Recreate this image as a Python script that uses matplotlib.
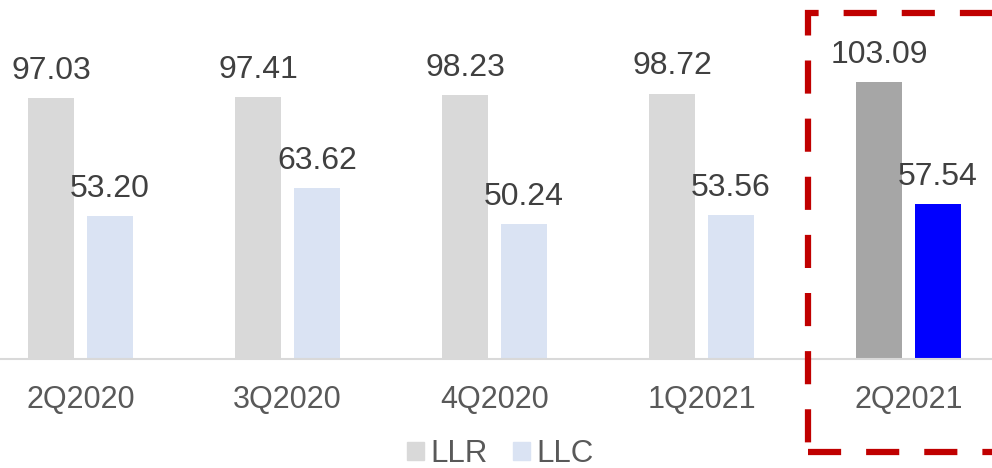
import matplotlib.pyplot as plt
from matplotlib.patches import Rectangle

plt.rcParams['font.family'] = ['Liberation Sans', 'DejaVu Sans']

quarters = ["2Q2020", "3Q2020", "4Q2020", "1Q2021", "2Q2021"]
llr = [97.03, 97.41, 98.23, 98.72, 103.09]
llc = [53.20, 63.62, 50.24, 53.56, 57.54]

llr_colors = ['#D9D9D9'] * 4 + ['#A6A6A6']
llc_colors = ['#DAE3F3'] * 4 + ['#0000FF']

fig = plt.figure(figsize=(9.92, 4.68), dpi=100)
ax = fig.add_axes([-23 / 992, 109 / 468, 1035 / 992, 359 / 468])

x = range(len(quarters))
w = 0.222
off = 0.142
b1 = ax.bar([i - off for i in x], llr, w, color=llr_colors, label="LLR")
b2 = ax.bar([i + off for i in x], llc, w, color=llc_colors, label="LLC")

for bars, vals in ((b1, llr), (b2, llc)):
    for bar, v in zip(bars, vals):
        ax.text(bar.get_x() + bar.get_width() / 2, v + 4.5, f"{v:.2f}",
                ha='center', va='bottom', fontsize=23, color='#404040')

ax.set_xlim(-0.5, 4.5)
ax.set_ylim(0, 133.5)
ax.set_xticks(list(x))
ax.set_xticklabels(quarters, fontsize=22, color='#595959')
ax.tick_params(axis='x', length=0, pad=19)
ax.set_yticks([])
for s in ['top', 'right', 'left']:
    ax.spines[s].set_visible(False)
ax.spines['bottom'].set_color('#D9D9D9')
ax.spines['bottom'].set_linewidth(1.5)

# legend uses the lighter shades
h1 = Rectangle((0, 0), 1, 1, color='#D9D9D9')
h2 = Rectangle((0, 0), 1, 1, color='#DAE3F3')
fig.legend([h1, h2], ["LLR", "LLC"], loc='center', bbox_to_anchor=(500 / 992, 1 - 454 / 468),
           ncol=2, frameon=False, fontsize=22.5, labelcolor='#595959',
           handlelength=0.55, handleheight=0.55, handletextpad=0.2, columnspacing=0.8,
           borderpad=0.1)

# dashed highlight around the latest quarter
box = Rectangle((808 / 992, 1 - 452 / 468), 200 / 992, 439 / 468, transform=fig.transFigure,
                fill=False, edgecolor='#C00000', linewidth=4.5, linestyle=(0, (5.3, 4)),
                clip_on=False)
fig.add_artist(box)

fig.savefig("out.png", dpi=100)
